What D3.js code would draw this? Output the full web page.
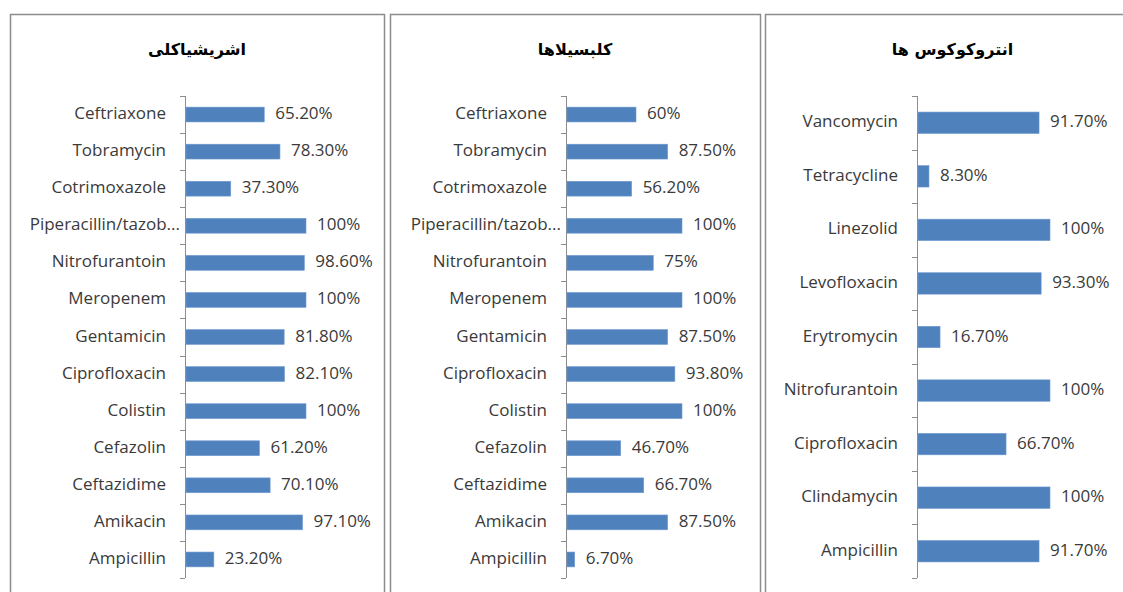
<!DOCTYPE html>
<html lang="en">
<head>
    <meta charset="UTF-8">
    <title>Antibiotic sensitivity</title>
    <script src="https://d3js.org/d3.v7.min.js"></script>
    <style>
        body { margin: 0; background: #fff; }
        text { font-family: "Open Sans", "DejaVu Sans", sans-serif; }
    </style>
</head>
<body>
    <script>
        // E. coli
        const ecoliDrugs = ["Ceftriaxone", "Tobramycin", "Cotrimoxazole", "Piperacillin/tazob...",
            "Nitrofurantoin", "Meropenem", "Gentamicin", "Ciprofloxacin", "Colistin",
            "Cefazolin", "Ceftazidime", "Amikacin", "Ampicillin"];
        const ecoliValues = [65.2, 78.3, 37.3, 100, 98.6, 100, 81.8, 82.1, 100, 61.2, 70.1, 97.1, 23.2];
        const ecoliLabels = ["65.20%", "78.30%", "37.30%", "100%", "98.60%", "100%", "81.80%",
            "82.10%", "100%", "61.20%", "70.10%", "97.10%", "23.20%"];

        // Klebsiella
        const klebDrugs = ecoliDrugs;
        const klebValues = [60, 87.5, 56.2, 100, 75, 100, 87.5, 93.8, 100, 46.7, 66.7, 87.5, 6.7];
        const klebLabels = ["60%", "87.50%", "56.20%", "100%", "75%", "100%", "87.50%",
            "93.80%", "100%", "46.70%", "66.70%", "87.50%", "6.70%"];

        // Enterococcus
        const enteroDrugs = ["Vancomycin", "Tetracycline", "Linezolid", "Levofloxacin",
            "Erytromycin", "Nitrofurantoin", "Ciprofloxacin", "Clindamycin", "Ampicillin"];
        const enteroValues = [91.7, 8.3, 100, 93.3, 16.7, 100, 66.7, 100, 91.7];
        const enteroLabels = ["91.70%", "8.30%", "100%", "93.30%", "16.70%", "100%",
            "66.70%", "100%", "91.70%"];

        const titles = ["اشریشیاکلی", "کلبسیلاها", "انتروکوکوس ها"];

        const w = 1123, h = 592;
        const svg = d3.select("body").append("svg")
            .attr("width", w).attr("height", h);

        const panels = [
            { left: 10, right: 384, axisX: 185, len: 120, drugs: ecoliDrugs, values: ecoliValues, labels: ecoliLabels, title: titles[0] },
            { left: 390, right: 760, axisX: 566, len: 115, drugs: klebDrugs, values: klebValues, labels: klebLabels, title: titles[1] },
            { left: 765, right: 1140, axisX: 917, len: 132, drugs: enteroDrugs, values: enteroValues, labels: enteroLabels, title: titles[2] }
        ];

        const plotTop = 96, plotBottom = 578;

        panels.forEach(p => {
            const g = svg.append("g");

            // frame
            g.append("rect")
                .attr("x", p.left + 0.5).attr("y", 14.5)
                .attr("width", p.right - p.left).attr("height", h + 20)
                .attr("fill", "none").attr("stroke", "#8c8c8c").attr("stroke-width", 1.5);

            g.append("text")
                .attr("x", (p.left + p.right) / 2).attr("y", 50)
                .attr("text-anchor", "middle").attr("dominant-baseline", "middle")
                .attr("font-size", 16).attr("font-weight", "bold")
                .style("font-family", "'DejaVu Sans', sans-serif")
                .attr("fill", "#000")
                .text(p.title);

            const x = d3.scaleLinear().domain([0, 100]).range([p.axisX, p.axisX + p.len]);
            const y = d3.scaleBand().domain(p.drugs).range([plotTop, plotBottom])
                .paddingInner(0.6).paddingOuter(0.3);
            const step = y.step();

            // axis line and boundary ticks
            g.append("line")
                .attr("x1", p.axisX + 0.5).attr("x2", p.axisX + 0.5)
                .attr("y1", plotTop).attr("y2", plotBottom)
                .attr("stroke", "#8c8c8c");
            const bounds = p.drugs.map(d => y(d) - step * 0.3).concat([plotBottom]);
            g.selectAll(".tick").data(bounds).enter().append("line")
                .attr("x1", p.axisX - 5).attr("x2", p.axisX)
                .attr("y1", d => Math.round(d) + 0.5).attr("y2", d => Math.round(d) + 0.5)
                .attr("stroke", "#8c8c8c");

            g.selectAll(".bar").data(p.values).enter().append("rect")
                .attr("x", x(0) + 1)
                .attr("y", (d, i) => y(p.drugs[i]))
                .attr("width", d => x(d) - x(0))
                .attr("height", y.bandwidth())
                .attr("fill", "#4f81bd")
                .attr("stroke", "#6f9ad0").attr("stroke-width", 0.6);

            // truncated labels sit closer to the axis, as in the source
            g.selectAll(".cat").data(p.drugs).enter().append("text")
                .attr("x", d => d.endsWith("...") ? p.axisX - 5 : p.axisX - 19)
                .attr("y", d => y(d) + y.bandwidth() / 2)
                .attr("text-anchor", "end").attr("dominant-baseline", "middle")
                .attr("font-size", 17).attr("fill", "#3a3a3a")
                .text(d => d);

            g.selectAll(".val").data(p.values).enter().append("text")
                .attr("x", d => x(d) + 12)
                .attr("y", (d, i) => y(p.drugs[i]) + y.bandwidth() / 2)
                .attr("dominant-baseline", "middle")
                .attr("font-size", 17).attr("fill", "#3a3a3a")
                .text((d, i) => p.labels[i]);
        });
    </script>
</body>
</html>
